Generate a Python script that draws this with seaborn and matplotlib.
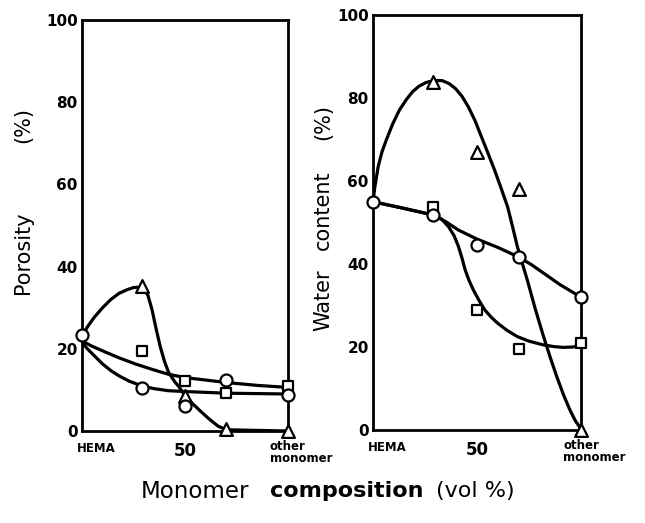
import matplotlib
matplotlib.use("Agg")
import matplotlib.pyplot as plt
import matplotlib.transforms as mtransforms
import seaborn as sns

# ---------------- data ----------------
x_cats = [0, 50, 100]
x_tick_labels = ["HEMA", "50", "other\nmonomer"]
y_ticks = [0, 20, 40, 60, 80, 100]

# Porosity (%) panel – measured points
por_circle_x = [0, 29, 50, 70, 100]
por_circle_y = [23.3, 10.4, 6.0, 12.4, 8.7]
por_square_x = [29, 50, 70, 100]
por_square_y = [19.4, 12.1, 9.2, 10.9]
por_tri_x = [29, 50, 70, 100]
por_tri_y = [35.2, 8.5, 0.5, 0.0]

# Porosity panel – drawn curves
por_tri_curve_x = [0, 3, 6, 10, 14, 18, 22, 25, 28, 30, 32, 34, 36, 38, 40, 42, 45, 47, 50, 54, 58, 62, 66, 70, 100]
por_tri_curve_y = [23.3, 25.6, 27.7, 30.0, 32.0, 33.5, 34.4, 34.9, 35.0, 34.6, 33.0, 29.5, 24.8, 20.5, 17, 14.3, 12.0, 10.8, 8.6, 6.5, 4.6, 2.8, 1.2, 0.3, 0]
por_sq_curve_x = [0, 5, 10, 18, 26, 34, 42, 50, 60, 70, 85, 100]
por_sq_curve_y = [21.9, 20.6, 19.5, 17.8, 16.3, 15.0, 13.8, 13.0, 12.4, 11.8, 11.1, 10.6]
por_ci_curve_x = [0, 3, 6, 10, 14, 18, 23, 29, 35, 42, 50, 60, 70, 85, 100]
por_ci_curve_y = [21.5, 19.8, 18.3, 16.3, 14.7, 13.4, 12.1, 11.0, 10.3, 9.8, 9.6, 9.4, 9.2, 9.1, 9.0]

# Water content (%) panel – measured points
wat_circle_x = [0, 29, 50, 70, 100]
wat_circle_y = [54.9, 51.8, 44.6, 41.8, 32.0]
wat_square_x = [29, 50, 70, 100]
wat_square_y = [53.8, 28.9, 19.4, 21.0]
wat_tri_x = [29, 50, 70, 100]
wat_tri_y = [83.9, 67.0, 58.0, 0.0]

# Water content panel – drawn curves
wat_tri_curve_x = [0, 0.9, 2.5, 4.3, 6.4, 9.5, 12.7, 16, 19, 22, 25.3, 29, 33.2, 36.5, 39.6, 42.8, 45.8, 49, 52.1, 55.2, 58.4, 61.5, 64.7, 67, 69.4, 74.2, 78, 82, 85.2, 88.4, 91.5, 94.7, 97.2, 99.8]
wat_tri_curve_y = [55, 58.6, 63.5, 67.0, 69.9, 73.8, 77.1, 79.6, 81.5, 82.8, 83.7, 84.2, 84.2, 83.5, 82.3, 80.4, 77.9, 74.6, 70.7, 66.8, 62.7, 58.4, 53.8, 49.2, 44.2, 36.1, 29.2, 22.5, 17.5, 12.8, 8.6, 4.8, 2.3, 0.4]
wat_ci_curve_x = [0, 14, 29, 35, 41, 50, 60, 69.5, 76, 82, 90, 100]
wat_ci_curve_y = [55, 53.5, 51.8, 50.2, 48.2, 46.0, 44.0, 41.8, 39.9, 37.8, 35.0, 32.0]
wat_sq_curve_x = [0, 14, 29, 33, 36.3, 39, 41.1, 42.8, 44.3, 46.2, 48.3, 51, 53.8, 56.8, 60, 64.5, 69.4, 75, 82, 87, 91.5, 96, 100]
wat_sq_curve_y = [55, 53.5, 51.8, 50.8, 49, 46.8, 44.2, 41.4, 38.6, 36.0, 33.7, 31.2, 28.9, 27.2, 25.7, 24.0, 22.5, 21.4, 20.5, 20.1, 19.9, 20.0, 20.3]

# ---------------- figure ----------------
sns.set_style("white")
plt.rcParams["font.family"] = ["DejaVu Sans"]
plt.rcParams["text.color"] = "black"
plt.rcParams["xtick.color"] = "black"
plt.rcParams["ytick.color"] = "black"
plt.rcParams["xtick.labelcolor"] = "black"
plt.rcParams["ytick.labelcolor"] = "black"

fig = plt.figure(figsize=(6.45, 5.23), dpi=100)
W, H = 645, 523
ax1 = fig.add_axes([82 / W, (H - 431) / H, 206 / W, 411 / H])
ax2 = fig.add_axes([373 / W, (H - 430) / H, 208 / W, 415 / H])

LW = 2.3


def draw_panel(ax, curves, points):
    for cx, cy in curves:
        sns.lineplot(x=cx, y=cy, ax=ax, color="black", lw=LW, estimator=None,
                     sort=False, zorder=2, solid_joinstyle="round",
                     solid_capstyle="round")
    for px, py, mk, s in points:
        sns.scatterplot(x=px, y=py, ax=ax, marker=mk, s=s, color="white",
                        edgecolor="black", linewidth=1.6, zorder=4, clip_on=False)
    ax.set_xlim(0, 98.6)
    ax.set_ylim(0, 100)
    for sp in ax.spines.values():
        sp.set_visible(True)
        sp.set_color("black")
        sp.set_linewidth(2.0)
    ax.set_yticks(y_ticks)
    ax.set_yticklabels([str(v) for v in y_ticks], fontsize=11, fontweight="bold",
                       color="black")
    ax.tick_params(axis="y", direction="inout", length=5, width=1.5, pad=0.5,
                   colors="black")
    ax.set_xticks(x_cats)
    ax.set_xticklabels(x_tick_labels, color="black")
    ax.tick_params(axis="x", direction="in", length=4, width=1.5, pad=8,
                   colors="black")
    labs = ax.get_xticklabels()
    labs[0].set_fontsize(8.5)
    labs[0].set_fontweight("bold")
    labs[0].set_ha("left")
    labs[0].set_transform(labs[0].get_transform() +
                          mtransforms.ScaledTranslation(-5 / 100, 0, fig.dpi_scale_trans))
    labs[1].set_fontsize(12)
    labs[1].set_fontweight("bold")
    labs[2].set_fontsize(8.5)
    labs[2].set_fontweight("bold")
    labs[2].set_ha("left")
    labs[2].set_multialignment("left")
    labs[2].set_linespacing(0.9)
    labs[2].set_transform(labs[2].get_transform() +
                          mtransforms.ScaledTranslation(-18 / 100, 2 / 100, fig.dpi_scale_trans))
    ax.set_xlabel("")
    ax.set_ylabel("")
    ax.grid(False)


draw_panel(
    ax1,
    [(por_tri_curve_x, por_tri_curve_y),
     (por_sq_curve_x, por_sq_curve_y),
     (por_ci_curve_x, por_ci_curve_y)],
    [(por_tri_x, por_tri_y, "^", 85),
     (por_square_x, por_square_y, "s", 60),
     (por_circle_x, por_circle_y, "o", 75)],
)
draw_panel(
    ax2,
    [(wat_tri_curve_x, wat_tri_curve_y),
     (wat_sq_curve_x, wat_sq_curve_y),
     (wat_ci_curve_x, wat_ci_curve_y)],
    [(wat_tri_x, wat_tri_y, "^", 85),
     (wat_square_x, wat_square_y, "s", 60),
     (wat_circle_x, wat_circle_y, "o", 75)],
)


def ftxt(x, y, s, **kw):
    fig.text(x / W, 1 - y / H, s, color="black", **kw)


# y-axis labels (spaced words as in the original)
ftxt(23, 253, "Porosity", rotation=90, ha="center", va="center", fontsize=15)
ftxt(23, 125, "(%)", rotation=90, ha="center", va="center", fontsize=15)
ftxt(323, 300, "Water", rotation=90, ha="center", va="center", fontsize=15)
ftxt(323, 210, "content", rotation=90, ha="center", va="center", fontsize=15)
ftxt(323, 122, "(%)", rotation=90, ha="center", va="center", fontsize=15)

# x-axis common label
ftxt(141, 491, "Monomer", ha="left", va="center", fontsize=16.5)
ftxt(270, 491, "composition", ha="left", va="center", fontsize=16, fontweight="bold")
ftxt(436, 491, "(vol %)", ha="left", va="center", fontsize=16)

fig.savefig("out.png", dpi=100, facecolor="white")
